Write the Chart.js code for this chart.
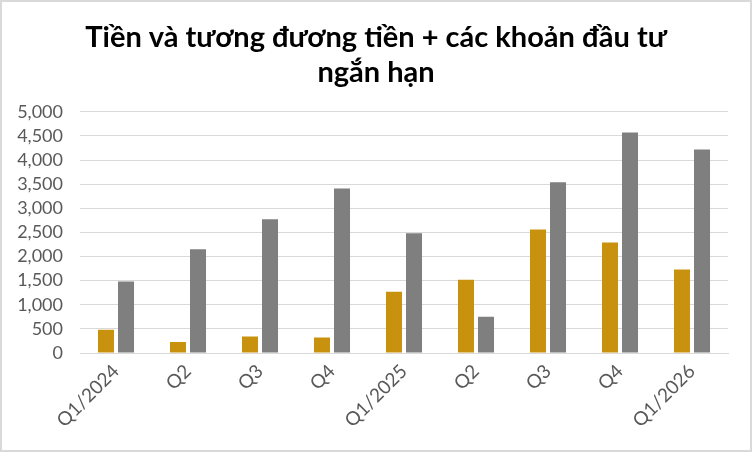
<!DOCTYPE html>
<html>
<head>
<meta charset="utf-8">
<script src="https://cdn.jsdelivr.net/npm/chart.js@4.4.1/dist/chart.umd.min.js"></script>
<style>
  html, body { margin: 0; padding: 0; background: #fff; }
  #wrap { width: 752px; height: 452px; position: relative; }
</style>
</head>
<body>
<div id="wrap"><canvas id="myChart"></canvas></div>
<script>
// data
var quarters = ['Q1/2024', 'Q2', 'Q3', 'Q4', 'Q1/2025', 'Q2', 'Q3', 'Q4', 'Q1/2026'];
var goldSeries = [480, 230, 340, 320, 1270, 1520, 2560, 2290, 1730];
var graySeries = [1480, 2150, 2770, 3410, 2480, 750, 3540, 4570, 4220];
var titleLines = ['Tiền và tương đương tiền + các khoản đầu tư', 'ngắn hạn'];

// white background + thin grey frame like the original picture
var framePlugin = {
    id: 'frame',
    beforeDraw: function (chart) {
        var c = chart.ctx;
        c.save();
        c.fillStyle = '#ffffff';
        c.fillRect(0, 0, chart.width, chart.height);
        c.strokeStyle = '#d9d9d9';
        c.lineWidth = 2;
        c.strokeRect(1, 1, chart.width - 2, chart.height - 2);
        c.restore();
    }
};

var ctx = document.getElementById('myChart').getContext('2d');
var chart = new Chart(ctx, {
    type: 'bar',
    data: {
        labels: quarters,
        datasets: [{
            label: 'Series 1',
            backgroundColor: '#c8920e',
            data: goldSeries
        }, {
            label: 'Series 2',
            backgroundColor: '#7f7f7f',
            data: graySeries
        }]
    },
    options: {
        responsive: true,
        maintainAspectRatio: false,
        animation: false,
        categoryPercentage: 0.556,
        barPercentage: 0.8,
        layout: {
            padding: 0
        },
        plugins: {
            legend: { display: false },
            tooltip: { enabled: false },
            title: {
                display: true,
                text: titleLines,
                color: '#000000',
                font: { family: 'Lato', size: 29, weight: 'bold', lineHeight: 1.22 },
                padding: { top: 20, bottom: 21 }
            }
        },
        scales: {
            x: {
                grid: { display: false, drawTicks: false },
                border: { color: '#d9d9d9', width: 1 },
                ticks: {
                    color: '#595959',
                    font: { family: 'Lato', size: 19 },
                    maxRotation: 45,
                    minRotation: 45,
                    padding: 7,
                    autoSkip: false
                },
                afterFit: function (scale) { scale.height = 99; }
            },
            y: {
                min: 0,
                max: 5000,
                grid: { color: '#d9d9d9', lineWidth: 1, drawTicks: false },
                border: { display: false },
                ticks: {
                    stepSize: 500,
                    autoSkip: false,
                    color: '#595959',
                    font: { family: 'Lato', size: 18 },
                    padding: 17,
                    callback: function (v) { return v.toLocaleString('en-US'); }
                },
                afterFit: function (scale) { scale.width = 80; }
            },
            // empty right-hand axis, only keeps the right margin so the title stays centred
            yRight: {
                position: 'right',
                grid: { display: false, drawTicks: false },
                border: { display: false },
                ticks: { display: false },
                afterFit: function (scale) { scale.width = 24; }
            }
        }
    },
    plugins: [framePlugin]
});
</script>
</body>
</html>
